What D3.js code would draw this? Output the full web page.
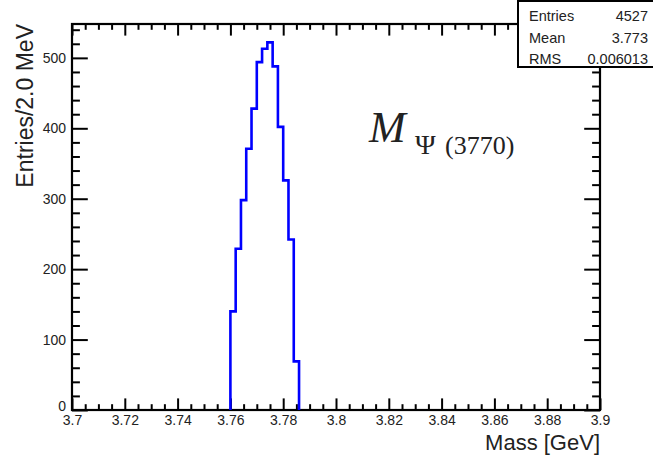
<!DOCTYPE html>
<html>
<head>
<meta charset="utf-8">
<script src="https://cdn.jsdelivr.net/npm/d3@7"></script>
<style>
  html, body { margin: 0; padding: 0; background: #fff; }
  svg { display: block; }
  .tick text { font-family: "Liberation Sans", Arial, sans-serif; fill: #222; }
</style>
</head>
<body>
<svg id="chart" width="653" height="456"></svg>
<script>
// Histogram of the reconstructed ψ(3770) mass, 2 MeV bins
const binLowEdges = [3.760, 3.762, 3.764, 3.766, 3.768, 3.770, 3.772, 3.774, 3.776, 3.778, 3.780, 3.782, 3.784];
const binWidth = 0.002;
const binCounts = [140, 229, 298, 371, 428, 494, 513, 522, 488, 402, 326, 242, 69];

const xMajorTicks = [3.70, 3.72, 3.74, 3.76, 3.78, 3.80, 3.82, 3.84, 3.86, 3.88, 3.90];
const xTickLabels = ["3.7", "3.72", "3.74", "3.76", "3.78", "3.8", "3.82", "3.84", "3.86", "3.88", "3.9"];
const yMajorTicks = [0, 100, 200, 300, 400, 500];

const statNames = ["Entries", "Mean", "RMS"];
const statValues = ["4527", "3.773", "0.006013"];

const xDomain = [3.7, 3.9];
const yMax = 548.1;

const frame = { left: 72, right: 600, top: 24, bottom: 410 };

const svg = d3.select("#chart");

const x = d3.scaleLinear().domain(xDomain).range([frame.left, frame.right]);
const y = d3.scaleLinear().domain([0, yMax]).range([frame.bottom, frame.top]);

const xMinor = d3.range(0, 41).map(i => 3.7 + i * 0.005).filter(v => !xMajorTicks.some(m => Math.abs(m - v) < 1e-9));
const yMinor = d3.range(0, 28).map(i => i * 20).filter(v => v % 100 !== 0 && v <= yMax);

const labelOf = d => xTickLabels[xMajorTicks.findIndex(m => Math.abs(m - d) < 1e-9)];

const majX = 11.6, minX = 5.8, majY = 15.8, minY = 7.9;

// bottom axis (labels) and top axis, ticks pointing into the frame
svg.append("g").attr("transform", `translate(0,${frame.bottom})`)
  .call(d3.axisBottom(x).tickValues(xMajorTicks).tickFormat(labelOf)
    .tickSizeInner(-majX).tickSizeOuter(0).tickPadding(5))
  .call(g => g.selectAll("text").attr("font-size", 14));
svg.append("g").attr("transform", `translate(0,${frame.bottom})`)
  .call(d3.axisBottom(x).tickValues(xMinor).tickFormat("").tickSizeInner(-minX).tickSizeOuter(0));
svg.append("g").attr("transform", `translate(0,${frame.top})`)
  .call(d3.axisTop(x).tickValues(xMajorTicks).tickFormat("").tickSizeInner(-majX).tickSizeOuter(0));
svg.append("g").attr("transform", `translate(0,${frame.top})`)
  .call(d3.axisTop(x).tickValues(xMinor).tickFormat("").tickSizeInner(-minX).tickSizeOuter(0));

// left axis (labels) and right axis
svg.append("g").attr("transform", `translate(${frame.left},0)`)
  .call(d3.axisLeft(y).tickValues(yMajorTicks).tickFormat(d3.format("d"))
    .tickSizeInner(-majY).tickSizeOuter(0).tickPadding(6))
  .call(g => g.selectAll("text").attr("font-size", 14))
  .call(g => g.selectAll(".tick text").filter(d => d === 0).attr("dy", "0.05em"));
svg.append("g").attr("transform", `translate(${frame.left},0)`)
  .call(d3.axisLeft(y).tickValues(yMinor).tickFormat("").tickSizeInner(-minY).tickSizeOuter(0));
svg.append("g").attr("transform", `translate(${frame.right},0)`)
  .call(d3.axisRight(y).tickValues(yMajorTicks).tickFormat("").tickSizeInner(-majY).tickSizeOuter(0));
svg.append("g").attr("transform", `translate(${frame.right},0)`)
  .call(d3.axisRight(y).tickValues(yMinor).tickFormat("").tickSizeInner(-minY).tickSizeOuter(0));

svg.selectAll(".domain").remove();
svg.selectAll(".tick line").attr("stroke", "#000").attr("stroke-width", 2);

// frame
svg.append("rect")
  .attr("x", frame.left).attr("y", frame.top)
  .attr("width", frame.right - frame.left).attr("height", frame.bottom - frame.top)
  .attr("fill", "none").attr("stroke", "#000").attr("stroke-width", 2.2);

// histogram outline as a stepped path
const pts = [[binLowEdges[0], 0]];
binLowEdges.forEach((lo, i) => {
  pts.push([lo, binCounts[i]]);
  pts.push([lo + binWidth, binCounts[i]]);
});
pts.push([binLowEdges[binLowEdges.length - 1] + binWidth, 0]);

svg.append("path")
  .datum(pts)
  .attr("d", d3.line().x(d => x(d[0])).y(d => y(d[1])))
  .attr("fill", "none")
  .attr("stroke", "#0000ff")
  .attr("stroke-width", 2.6)
  .attr("stroke-linejoin", "miter");

// axis titles
svg.append("text")
  .attr("x", frame.right).attr("y", 450)
  .attr("text-anchor", "end")
  .attr("font-family", "Liberation Sans, Arial, sans-serif")
  .attr("font-size", 22).attr("fill", "#222")
  .text("Mass [GeV]");

svg.append("text")
  .attr("transform", `translate(33,${frame.top}) rotate(-90)`)
  .attr("text-anchor", "end")
  .attr("font-family", "Liberation Sans, Arial, sans-serif")
  .attr("font-size", 23).attr("fill", "#222")
  .text("Entries/2.0 MeV");

// particle label
const lbl = svg.append("text")
  .attr("font-family", "Liberation Serif, Times New Roman, serif")
  .attr("fill", "#222");
lbl.append("tspan").attr("x", 369).attr("y", 142)
  .attr("font-size", 44).attr("font-style", "italic").text("M");
lbl.append("tspan").attr("x", 415).attr("y", 154)
  .attr("font-size", 28).text("Ψ");
lbl.append("tspan").attr("x", 445).attr("y", 154)
  .attr("font-size", 26).text("(3770)");

// statistics box
const box = { x: 518, y: 1, w: 140, h: 66 };
svg.append("rect")
  .attr("x", box.x).attr("y", box.y).attr("width", box.w).attr("height", box.h)
  .attr("fill", "#fff").attr("stroke", "#000").attr("stroke-width", 2);

const rowY = d3.scalePoint().domain(statNames).range([21, 64]);
const stats = svg.append("g")
  .attr("font-family", "Liberation Sans, Arial, sans-serif")
  .attr("font-size", 14.5).attr("fill", "#222");
stats.selectAll("text.name").data(statNames).join("text")
  .attr("class", "name").attr("x", 529).attr("y", d => rowY(d))
  .text(d => d);
stats.selectAll("text.val").data(statValues).join("text")
  .attr("class", "val").attr("x", 648).attr("y", (d, i) => rowY(statNames[i]))
  .attr("text-anchor", "end")
  .text(d => d);
</script>
</body>
</html>
